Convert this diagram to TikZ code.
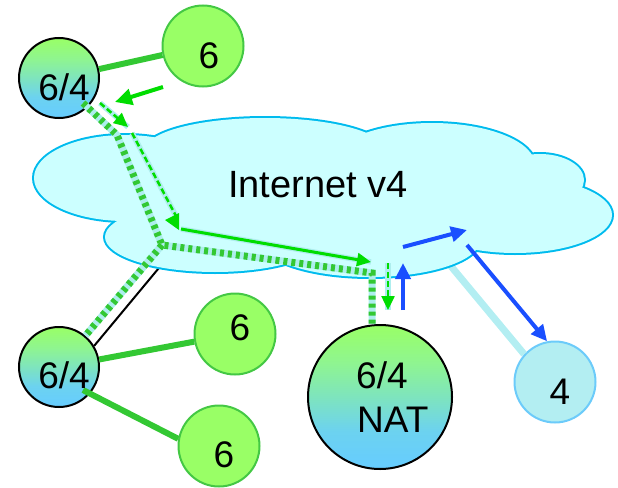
\documentclass[tikz,border=0pt]{standalone}
\usepackage{fontspec}
\setmainfont{Liberation Sans}
\usetikzlibrary{arrows.meta}

\definecolor{cloudfill}{HTML}{CCFFFF}
\definecolor{cloudedge}{HTML}{00BBEE}
\definecolor{leafgreen}{HTML}{99FF66}
\definecolor{leafedge}{HTML}{44C844}
\definecolor{linkgreen}{HTML}{33C833}
\definecolor{flowgreen}{HTML}{00DD00}
\definecolor{tunnelcyan}{HTML}{AEEEEE}
\definecolor{hostfill}{HTML}{B3EEF2}
\definecolor{hostedge}{HTML}{6CCBFA}
\definecolor{dualblue}{HTML}{66CCFF}
\definecolor{dualsky}{HTML}{6CD2F0}
\definecolor{dualteal}{HTML}{7EE4BE}
\definecolor{dualmint}{HTML}{8FF590}
\definecolor{flowblue}{HTML}{1A4FFF}

% green-to-blue fill of the dual-stack hosts (the circle spans 25bp to 75bp)
\pgfdeclareverticalshading{dualshade}{100bp}{color(0bp)=(dualblue); color(25bp)=(dualblue);
  color(38bp)=(dualsky); color(50bp)=(dualteal); color(62bp)=(dualmint);
  color(75bp)=(leafgreen); color(100bp)=(leafgreen)}

\begin{document}
\begin{tikzpicture}[x=1pt, y=-1pt,
  dualhost/.style={circle, draw=black, line width=2pt, shading=dualshade,
    minimum size=80pt, inner sep=0pt},
  v6host/.style={circle, draw=leafedge, fill=leafgreen, line width=2pt,
    minimum size=81pt, inner sep=0pt},
  v4host/.style={circle, draw=hostedge, fill=hostfill, line width=2pt,
    minimum size=81pt, inner sep=0pt},
  lbl/.style={font=\fontsize{37pt}{40pt}\selectfont, anchor=base, inner sep=0pt},
  link/.style={line width=6pt, linkgreen},
  tunnelbase/.style={line width=7pt, tunnelcyan},
  tunnelstripe/.style={line width=7pt, linkgreen, dash pattern=on 4pt off 4pt},
  flowbase/.style={line width=5.5pt, tunnelcyan},
  flowdash/.style={line width=2.5pt, flowgreen, dash pattern=on 6pt off 3pt},
  flowtip/.style={-{Triangle[length=14pt, width=13pt]}},
  v4flow/.style={line width=4pt, flowblue, -{Triangle[length=16pt, width=15pt]}},
]
\useasboundingbox (0,0) rectangle (618,487);

% hosts
\node[dualhost] (tl64) at (59,78) {};
\node[v6host] (t6) at (203,46) {};
\node[dualhost] (bl64) at (59,367) {};
\node[v6host] (m6) at (235,334) {};
\node[v6host] (b6) at (219,446) {};
\node[dualhost, minimum size=144pt] (nat) at (380,397) {};
\node[v4host] (n4) at (555,382) {};

% points along the paths
\coordinate (blk) at (178,245);
\coordinate (v4in) at (440,253);
\coordinate (a0) at (83,103);
\coordinate (a1) at (117,135);
\coordinate (J) at (162,245);
\coordinate (C) at (372,273);
\coordinate (f0) at (100,103);
\coordinate (f1) at (128,127);
\coordinate (f2) at (132,133);
\coordinate (f3) at (176,216);
\coordinate (f4) at (181,229);
\coordinate (f5) at (371,262);
\coordinate (f6) at (388,263);
\coordinate (f7) at (388,310);
\coordinate (u0) at (403,310);
\coordinate (u1) at (403,263);
\coordinate (u2) at (403,247);
\coordinate (u3) at (467,230);
\coordinate (u4) at (467,245);
\coordinate (g0) at (163,87);
\coordinate (g1) at (115,102);
\coordinate (g2) at (83,390);

% links passing behind the cloud
\draw[line width=2pt, black] (bl64.31) -- (blk);
\draw[line width=7pt, hostfill] (v4in) -- (n4.138);

% the cloud: outlines first, then the union of fills on top
\foreach \cx/\cy/\rx/\ry in {125/178/91/43, 215/237/110/35, 265/150/120/32,
    432/165/103/42, 540/180/44/26, 515/215/97/38, 370/240/110/37}
  \draw[cloudedge, line width=4pt] (\cx,\cy) ellipse [x radius=\rx pt, y radius=\ry pt];
\foreach \cx/\cy/\rx/\ry in {125/178/91/43, 215/237/110/35, 265/150/120/32,
    432/165/103/42, 540/180/44/26, 515/215/97/38, 370/240/110/37, 330/190/200/55}
  \fill[cloudfill] (\cx,\cy) ellipse [x radius=\rx pt, y radius=\ry pt];

\node[lbl, font=\fontsize{38pt}{40pt}\selectfont] (inet) at (318,197) {Internet v4};

% tunnel through the IPv4 cloud
\draw[tunnelbase] (a0) -- (a1) -- (J) -- (C) -- (C |- nat.north);
\draw[tunnelstripe] (a0) -- (a1) -- (J) -- (C) -- (C |- nat.north);
\draw[tunnelbase] (J) -- (bl64);
\draw[tunnelstripe] (J) -- (bl64);

% IPv6 flow
\draw[flowbase] (f0) -- (f1);
\draw[flowdash, flowtip] (f0) -- (f1);
\draw[flowbase] (f2) -- (f3);
\draw[flowdash] (f2) -- (f3);
\fill[flowgreen] (165,220) -- (179,213) -- (179,230) -- cycle;
\draw[flowbase] (f4) -- (f5);
\draw[line width=3pt, flowgreen, flowtip] (f4) -- (f5);
\draw[flowbase] (f6) -- (f7);
\draw[flowdash, flowtip] (f6) -- (f7);

% IPv4 flow
\draw[v4flow] (u0) -- (u1);
\draw[v4flow] (u2) -- (u3);
\draw[v4flow] (u4) -- (n4.101);

% IPv6 links
\draw[link] (tl64) -- (t6);
\draw[line width=4pt, flowgreen, -{Triangle[length=17pt, width=16pt]}] (g0) -- (g1);
\draw[link] (bl64) -- (m6);
\draw[link] (g2) -- (b6.170);

% labels
\node[lbl] (tl64t) at (64,100) {6/4};
\node[lbl] (t6t) at (209,68) {6};
\node[lbl] (bl64t) at (64,388) {6/4};
\node[lbl] (m6t) at (240,340) {6};
\node[lbl] (b6t) at (224,467) {6};
\node[lbl] (n4t) at (560,404) {4};
\node[lbl, anchor=base west] (natt1) at (356,388) {6/4};
\node[lbl, anchor=base west] (natt2) at (357,432) {NAT};
\end{tikzpicture}
\end{document}
